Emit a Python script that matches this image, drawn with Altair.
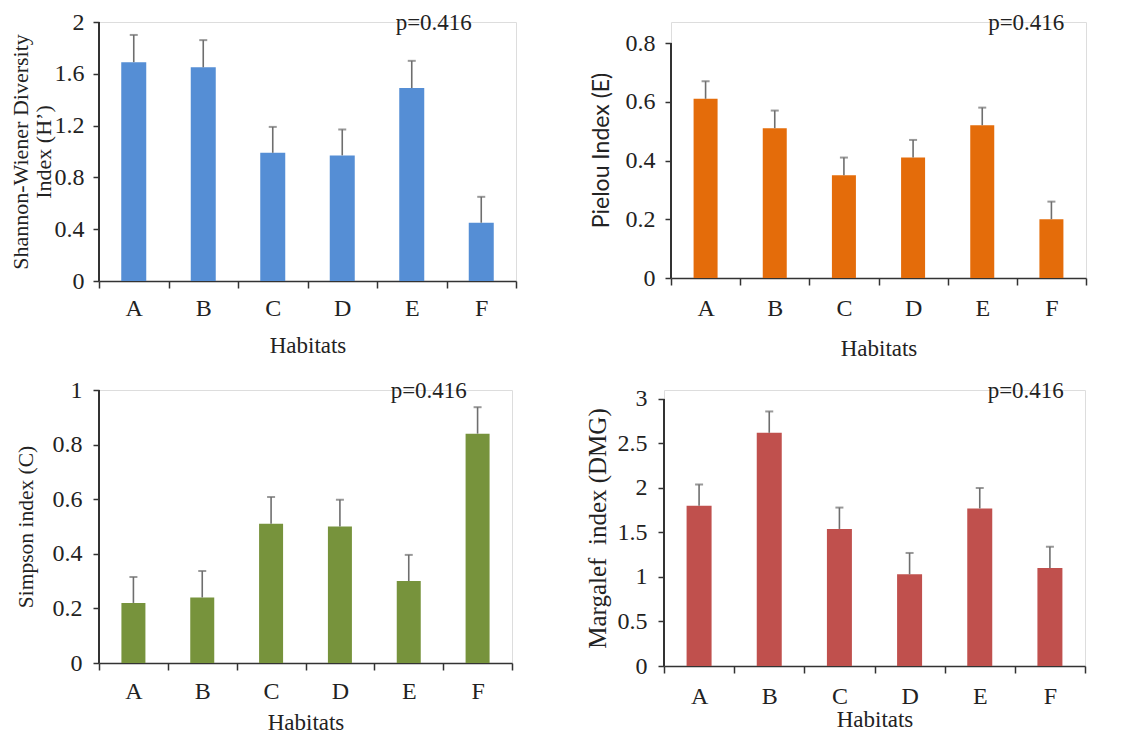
import altair as alt
import pandas as pd

habitats = ["A", "B", "C", "D", "E", "F"]

shannon = [1.69, 1.65, 0.99, 0.97, 1.49, 0.45]
shannon_err = [0.21, 0.21, 0.20, 0.20, 0.21, 0.20]

pielou = [0.61, 0.51, 0.35, 0.41, 0.52, 0.20]
pielou_err = [0.06, 0.06, 0.06, 0.06, 0.06, 0.06]

simpson = [0.22, 0.24, 0.51, 0.50, 0.30, 0.84]
simpson_err = [0.095, 0.097, 0.098, 0.098, 0.096, 0.097]

margalef = [1.80, 2.62, 1.54, 1.03, 1.77, 1.10]
margalef_err = [0.24, 0.24, 0.24, 0.24, 0.23, 0.24]

p_label = "p=0.416"

SERIF = "Liberation Serif"
SANS = "Lato"
AXC = "#333333"
TXT = "#222222"


def panel(vals, errs, ytitle, ymax, ytop, ystep, color, w, h, bar_size,
          ylab_pad, ytitle_pad, ytitle_font, ytitle_size,
          xlab_pad, xtitle_pad, p_y, p_dx):
    df = pd.DataFrame({
        "Habitat": habitats,
        "value": vals,
        "upper": [v + e for v, e in zip(vals, errs)],
    })
    ticks = []
    t = 0.0
    while t <= ymax + 1e-9:
        ticks.append(round(t, 4))
        t += ystep
    xenc = alt.X(
        "Habitat:N",
        sort=habitats,
        scale=alt.Scale(paddingInner=0, paddingOuter=0),
        axis=alt.Axis(
            title="Habitats",
            labelAngle=0,
            tickBand="extent",
            tickSize=7,
            tickColor=AXC,
            domainColor=AXC,
            domainWidth=1.5,
            tickWidth=1.5,
            labelFont=SERIF,
            labelFontSize=24,
            labelColor=TXT,
            labelPadding=xlab_pad,
            titleFont=SERIF,
            titleFontSize=23,
            titleFontWeight="normal",
            titleColor=TXT,
            titlePadding=xtitle_pad,
        ),
    )
    yscale = alt.Scale(domain=[0, ytop], nice=False, zero=True)
    yaxis = alt.Axis(
        title=ytitle,
        values=ticks,
        format="~g",
        grid=False,
        domain=False,
        tickSize=6,
        tickColor=AXC,
        tickWidth=1.5,
        labelFont=SERIF,
        labelFontSize=24,
        labelColor=TXT,
        labelPadding=ylab_pad,
        titleFont=ytitle_font,
        titleFontSize=ytitle_size,
        titleFontWeight="normal",
        titleColor=TXT,
        titlePadding=ytitle_pad,
        titleLineHeight=23,
    )
    base = alt.Chart(df)
    bars = base.mark_bar(color=color, size=bar_size).encode(
        x=xenc,
        y=alt.Y("value:Q", scale=yscale, axis=yaxis),
    )
    yline = base.mark_rule(color=AXC, strokeWidth=1.5).encode(
        x=alt.value(0),
        y=alt.Y(datum=0),
        y2=alt.Y2(datum=ymax),
    )
    rule = base.mark_rule(color="#6e6e6e", strokeWidth=1.6).encode(
        x=alt.X("Habitat:N", sort=habitats),
        y=alt.Y("value:Q"),
        y2="upper:Q",
    )
    cap = base.mark_tick(color="#6e6e6e", thickness=2, size=8).encode(
        x=alt.X("Habitat:N", sort=habitats),
        y=alt.Y("upper:Q"),
    )
    tdf = pd.DataFrame({"Habitat": ["E"], "y": [p_y], "label": [p_label]})
    ptext = alt.Chart(tdf).mark_text(
        font=SERIF, fontSize=23, color=TXT, baseline="middle",
        align="center", dx=p_dx,
    ).encode(
        x=alt.X("Habitat:N", sort=habitats),
        y=alt.Y("y:Q"),
        text="label:N",
    )
    return alt.layer(bars, yline, rule, cap, ptext).properties(width=w, height=h)


tl = panel(shannon, shannon_err, ["Shannon-Wiener Diversity", "Index (H’)"],
           2.0, 2.0, 0.4, "#558ED5", 417, 259, 25,
           9, -1, SERIF, 22,
           8, 14.5, 1.99, 22)
tr = panel(pielou, pielou_err, "Pielou Index (E)",
           0.8, 0.8715, 0.2, "#E46C0A", 415, 256, 24,
           10, 12, SANS, 23,
           11, 17.5, 0.868, 44)
bl = panel(simpson, simpson_err, "Simpson index (C)",
           1.0, 1.0, 0.2, "#77933C", 413, 273, 24,
           11, 15, SERIF, 21.5,
           9, 8.5, 0.996, 20)
br = panel(margalef, margalef_err, "Margalef\u00a0 index (DMG)",
           3.0, 3.101, 0.5, "#C0504D", 421, 276, 25,
           11, 6.5, SERIF, 25,
           11, 0, 3.09, 46)

row1 = alt.hconcat(tl, tr, spacing=71)
row2 = alt.hconcat(bl, br, spacing=70)
chart = alt.vconcat(row1, row2, spacing=16).properties(
    padding={"left": 0, "top": 1, "right": 5, "bottom": 0}
).configure_view(stroke=None).configure(background="white")

chart.save("out.html", embed_options={"renderer": "svg", "actions": False})
